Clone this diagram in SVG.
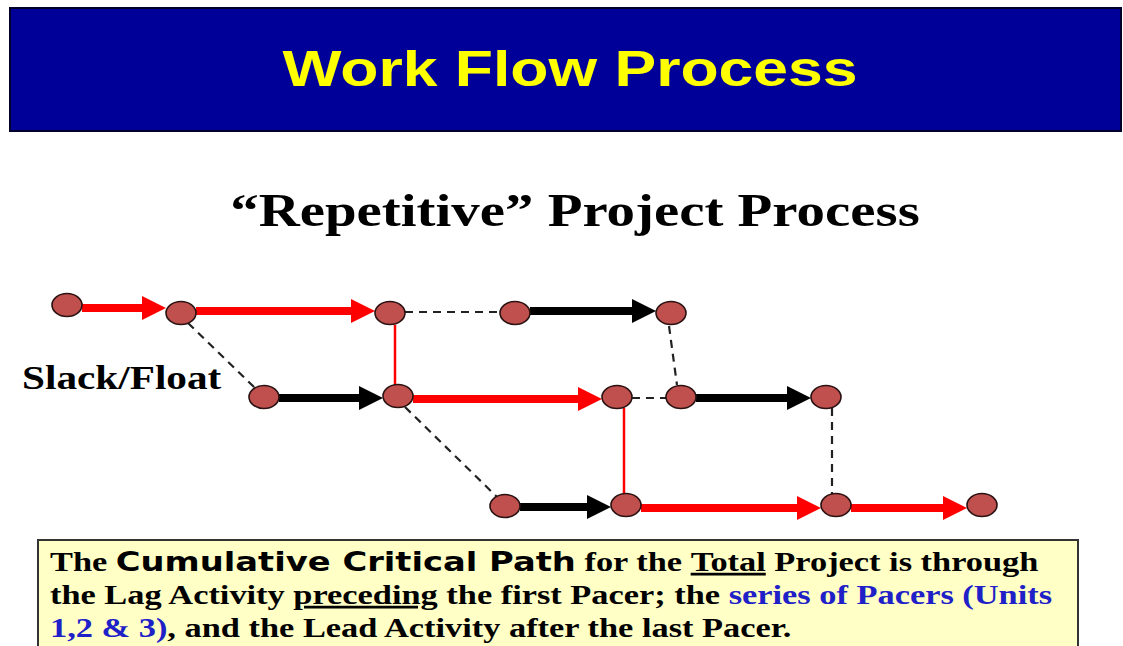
<svg xmlns="http://www.w3.org/2000/svg" width="1123" height="646" viewBox="0 0 1123 646">
<style>
.node{fill:#C0504D;stroke:#2a1212;stroke-width:1.6}
.red{stroke:#FF0000;stroke-width:8;fill:none}
.blk{stroke:#000;stroke-width:8;fill:none}
.thinred{stroke:#FF0000;stroke-width:2.5;fill:none}
.dash{stroke:#222;stroke-width:2.2;stroke-dasharray:8 6;fill:none}
.serif{font-family:"Liberation Serif","Times New Roman",serif;font-weight:bold}
.sans{font-family:"Liberation Sans",Arial,sans-serif;font-weight:bold}
.wide{font-family:"DejaVu Sans",Verdana,sans-serif;font-weight:bold}
.blue{fill:#2020C8}
</style>
<defs>
<marker id="hr" markerUnits="userSpaceOnUse" markerWidth="26" markerHeight="24" refX="0" refY="12" orient="auto"><path d="M0,0 L24,12 L0,24 z" fill="#FF0000"/></marker>
<marker id="hb" markerUnits="userSpaceOnUse" markerWidth="26" markerHeight="24" refX="0" refY="12" orient="auto"><path d="M0,0 L24,12 L0,24 z" fill="#000"/></marker>
</defs>
<rect width="1123" height="646" fill="#fff"/>
<g id="banner">
<rect x="10" y="8" width="1111" height="123" fill="#000099" stroke="#00002a" stroke-width="2"/>
<g transform="scale(1.25 1)"><text class="sans" x="456" y="86" font-size="50" fill="#FFFF00" text-anchor="middle">Work Flow Process</text></g>
</g>
<g id="subtitle" transform="scale(1.25 1)"><text class="serif" x="460" y="226" font-size="45.5" fill="#000" text-anchor="middle">“Repetitive” Project Process</text></g>
<g id="slack-label" transform="scale(1.25 1)"><text class="serif" x="17.6" y="389" font-size="33" fill="#000">Slack/Float</text></g>
<g id="connectors">
<line class="red" x1="82" y1="308" x2="142" y2="308" marker-end="url(#hr)"/>
<line class="red" x1="196" y1="311" x2="351" y2="311" marker-end="url(#hr)"/>
<line class="dash" x1="405" y1="312" x2="500" y2="312"/>
<line class="blk" x1="530" y1="311" x2="632" y2="311" marker-end="url(#hb)"/>
<line class="dash" x1="188" y1="323" x2="255" y2="388"/>
<line class="thinred" x1="395" y1="325" x2="395" y2="385"/>
<line class="dash" x1="669" y1="326" x2="677" y2="385"/>
<line class="blk" x1="279" y1="398" x2="359" y2="398" marker-end="url(#hb)"/>
<line class="red" x1="413" y1="399" x2="578" y2="399" marker-end="url(#hr)"/>
<line class="dash" x1="632" y1="398" x2="666" y2="398"/>
<line class="blk" x1="696" y1="398" x2="787" y2="398" marker-end="url(#hb)"/>
<line class="dash" x1="405" y1="407" x2="497" y2="497"/>
<line class="thinred" x1="624" y1="408" x2="624" y2="494"/>
<line class="dash" x1="832" y1="408" x2="832" y2="494"/>
<line class="blk" x1="520" y1="507" x2="587" y2="507" marker-end="url(#hb)"/>
<line class="red" x1="641" y1="508" x2="797" y2="508" marker-end="url(#hr)"/>
<line class="red" x1="851" y1="508" x2="943" y2="508" marker-end="url(#hr)"/>
</g>
<g id="n1"><ellipse class="node" cx="67" cy="305" rx="15" ry="11.5"/></g>
<g id="n2"><ellipse class="node" cx="181" cy="313" rx="15" ry="11.5"/></g>
<g id="n3"><ellipse class="node" cx="390" cy="313" rx="15" ry="11.5"/></g>
<g id="n4"><ellipse class="node" cx="515" cy="313" rx="15" ry="11.5"/></g>
<g id="n5"><ellipse class="node" cx="671" cy="313" rx="15" ry="11.5"/></g>
<g id="n6"><ellipse class="node" cx="264" cy="397" rx="15" ry="11.5"/></g>
<g id="n7"><ellipse class="node" cx="398" cy="396" rx="15" ry="11.5"/></g>
<g id="n8"><ellipse class="node" cx="617" cy="397" rx="15" ry="11.5"/></g>
<g id="n9"><ellipse class="node" cx="681" cy="397" rx="15" ry="11.5"/></g>
<g id="n10"><ellipse class="node" cx="826" cy="397" rx="15" ry="11.5"/></g>
<g id="n11"><ellipse class="node" cx="505" cy="506" rx="15" ry="11.5"/></g>
<g id="n12"><ellipse class="node" cx="626" cy="505" rx="15" ry="11.5"/></g>
<g id="n13"><ellipse class="node" cx="836" cy="505" rx="15" ry="11.5"/></g>
<g id="n14"><ellipse class="node" cx="982" cy="505" rx="15" ry="11.5"/></g>
<g id="note">
<rect x="38" y="540" width="1040" height="112" fill="#FFFFC6" stroke="#333" stroke-width="2"/>
<g transform="scale(1.25 1)" font-size="27.5" fill="#000">
<text class="serif" x="40" y="571">The <tspan class="wide" font-size="27">Cumulative Critical Path</tspan> for the <tspan text-decoration="underline">Total</tspan> Project is through</text>
<text class="serif" x="40" y="604">the Lag Activity <tspan text-decoration="underline">preceding</tspan> the first Pacer; the <tspan class="blue">series of Pacers (Units</tspan></text>
<text class="serif" x="40" y="637"><tspan class="blue">1,2 &amp; 3)</tspan>, and the Lead Activity after the last Pacer.</text>
</g>
</g>
</svg>
